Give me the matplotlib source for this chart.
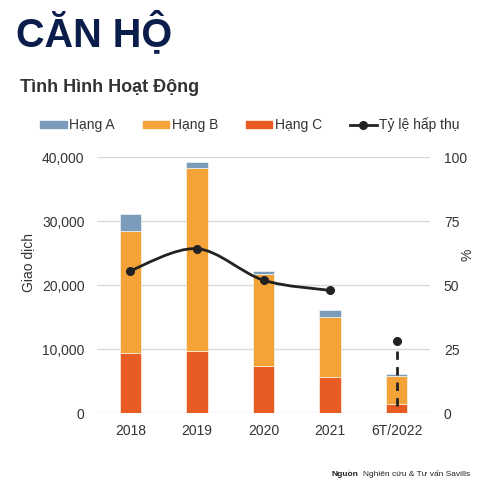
import matplotlib
matplotlib.use("Agg")
import matplotlib.pyplot as plt
from matplotlib.path import Path
from matplotlib.patches import PathPatch
from matplotlib.lines import Line2D
from matplotlib.patches import Patch
import numpy as np

plt.rcParams['font.family'] = ['Liberation Sans', 'DejaVu Sans']

categories = ["2018", "2019", "2020", "2021", "6T/2022"]
hang_c = [9500, 9700, 7400, 5700, 1500]
hang_b = [19000, 28600, 14400, 9300, 4400]
hang_a = [2600, 1000, 400, 1100, 250]
absorption = [55.7, 64.3, 52.0, 48.0]
absorption_6t = 28.4
absorption_6t_low = 3.0

col_a = "#7b9dbb"
col_b = "#f4a338"
col_c = "#e85b24"
txt = "#333333"

W, H = 488, 490
fig = plt.figure(figsize=(W/100, H/100), dpi=100)
ax = fig.add_axes([97/W, 1-413.3/H, (430-97)/W, 256/H])
ax2 = ax.twinx()

x = np.arange(len(categories))
bw = 0.32
ax.bar(x, hang_c, bw, color=col_c, edgecolor="white", linewidth=0.4, zorder=2)
ax.bar(x, hang_b, bw, bottom=hang_c, color=col_b, edgecolor="white", linewidth=0.4, zorder=2)
bot = [c + b for c, b in zip(hang_c, hang_b)]
ax.bar(x, hang_a, bw, bottom=bot, color=col_a, edgecolor="white", linewidth=0.4, zorder=2)

ax.set_xlim(-0.5, len(categories) - 0.5)
ax.set_ylim(0, 40000)
ax.set_yticks([0, 10000, 20000, 30000, 40000])
ax.set_yticklabels(["0", "10,000", "20,000", "30,000", "40,000"])
ax.set_xticks(x)
ax.set_xticklabels(categories)
ax.grid(axis='y', color="#d9d9d9", linewidth=1, zorder=0)
ax.set_axisbelow(True)
for s in ax.spines.values():
    s.set_visible(False)
for s in ax2.spines.values():
    s.set_visible(False)
ax.tick_params(axis='both', length=0, labelsize=10, labelcolor=txt)
ax.tick_params(axis='y', pad=9)
ax.tick_params(axis='x', pad=8)

ax2.set_ylim(0, 100)
ax2.set_yticks([0, 25, 50, 75, 100])
ax2.tick_params(axis='y', length=0, labelsize=10, labelcolor=txt, pad=10)

# smooth curve (Catmull-Rom -> cubic Bezier) through absorption points
px = list(x[:len(absorption)])
py = list(absorption)
pts = np.array(list(zip(px, py)), dtype=float)
verts = [tuple(pts[0])]
codes = [Path.MOVETO]
n = len(pts)
for i in range(n - 1):
    p0 = pts[i - 1] if i > 0 else pts[i]
    p1 = pts[i]
    p2 = pts[i + 1]
    p3 = pts[i + 2] if i + 2 < n else pts[i + 1]
    c1 = p1 + (p2 - p0) / 6.0
    c2 = p2 - (p3 - p1) / 6.0
    verts += [tuple(c1), tuple(c2), tuple(p2)]
    codes += [Path.CURVE4] * 3
ax2.add_patch(PathPatch(Path(verts, codes), facecolor="none", edgecolor="#222222", lw=2.0, zorder=3))
ax2.plot(px, py, 'o', color="#222222", markersize=5.5, zorder=4)
ax2.plot([x[4], x[4]], [absorption_6t_low, absorption_6t], color="#222222", lw=2.0,
         linestyle=(0, (3, 2.6)), zorder=3)
ax2.plot([x[4]], [absorption_6t], 'o', color="#222222", markersize=5.5, zorder=4)

# titles
fig.text(16/W, 1-46/H, "CĂN HỘ", fontsize=28.5, fontweight='bold', color="#0b1d4a", ha='left', va='baseline')
fig.text(20/W, 1-92/H, "Tình Hình Hoạt Động", fontsize=13, fontweight='bold', color=txt, ha='left', va='baseline')

# axis labels
fig.text(28/W, 1-262/H, "Giao dịch", rotation=90, fontsize=10, color=txt, ha='center', va='center')
fig.text(468/W, 1-255/H, "%", rotation=90, fontsize=10, color=txt, ha='center', va='center')

# legend
handles = [Patch(color=col_a), Patch(color=col_b), Patch(color=col_c),
           Line2D([0], [0], color="#222222", lw=2.0, marker='o', markersize=5.5)]
labels = ["Hạng A", "Hạng B", "Hạng C", "Tỷ lệ hấp thụ"]
leg = fig.legend(handles, labels, loc='center', bbox_to_anchor=(250/W, 1-125/H), ncol=4,
                 frameon=False, fontsize=10, handlelength=1.9, handleheight=0.5,
                 handletextpad=0.2, columnspacing=2.0, labelcolor=txt)

# source
src = fig.text(470/W, 1-474/H, "Nghiên cứu & Tư vấn Savills", fontsize=6, color="#222222", ha='right', va='center')
nguon = fig.text(470/W, 1-474/H, "Nguồn", fontsize=6, fontweight='bold', color="#222222", ha='right', va='center')
fig.canvas.draw()
bb = src.get_window_extent()
nguon.set_position(((bb.x0 - 4)/W, 1-474/H))

fig.savefig("out.png", dpi=100)
